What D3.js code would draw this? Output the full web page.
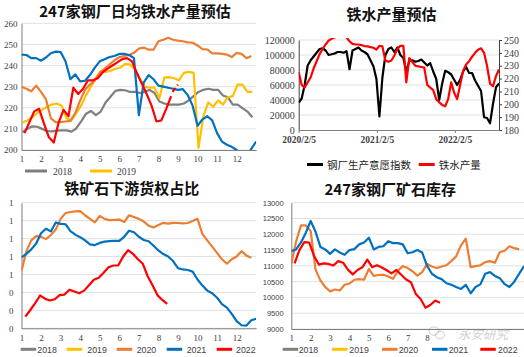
<!DOCTYPE html>
<html><head><meta charset="utf-8">
<script src="https://cdn.jsdelivr.net/npm/d3@7/dist/d3.min.js"></script>
<style>body{margin:0;background:#fff}svg{display:block}</style>
</head><body><svg id="c" width="524" height="357"></svg>
<script>
// ---------- DATA ----------
const monthLabels = [1,2,3,4,5,6,7,8,9,10,11,12];
const p4MonthLabels = [1,2,3,4,5,6,7,8];   // 9–12 hidden under the watermark in the reference
const yearNames = ["2018","2019","2020","2021","2022"];

// Panel 1: 247家钢厂日均铁水产量预估 (weekly, quarter-month steps)
const p1Ticks = [200,210,220,230,240,250,260];
const p1Start = {2018:1.05, 2019:1.05, 2020:1, 2021:1, 2022:1.15};
const p1_2018 = [208.5,210,211.2,211,210,209,208.8,209.2,209.3,209.3,208.7,210.2,213.5,217.2,218.5,216.5,218.2,222.5,225.2,228,228.5,228.3,227.5,227.5,227,227.5,228.5,227,223,222,221.5,221.5,221.5,222,223.5,225.5,227.5,228.5,229,228.5,228.5,225.8,225,221.5,221.5,219.8,218.2,215.5];
const p1_2019 = [213,214,215.5,217.5,219,220.5,221.5,222,221,215,214,217.5,221,226,230,234,237.5,237,237.5,238.5,239,240.8,240.5,238,233.5,230,229.5,229.5,224.5,234.3,234.5,234,233,236.5,237,236.5,201,216,222.5,220.5,223.5,221.5,225,225.5,231,231,227.5,227.5];
const p1_2020 = [230,229,227.8,230.5,227.5,224,215,213.2,213.2,213.5,213.8,217.5,223.5,228.5,231,233,236.5,238.5,240.5,242.5,244,244.5,245,246,248,248.5,247.5,247.5,251.5,252.2,253.2,252.2,251.8,251.5,251,250.8,249.5,247.8,247.6,245.8,245.8,245.5,245.2,244,246,245.5,243.5,244.5];
const p1_2021 = [245.2,245,243.5,243.5,242.3,243.8,245.8,246.6,246.4,242,233.5,235.8,232.5,232.8,235.5,239,242,243,244,244.5,245.5,245.5,245,243.5,216.5,232,235.5,233.5,230.5,230,229.5,229,228.5,228.8,226,221,211.5,214.5,216,214,208,204,202.5,201.5,200,198,197,200.5,204];
const p1_2022 = [208,213,218.3,219.5,212.5,206,203.5,213,219,216,229.5,226.5,229,233,233,234,236.8,238.5,240,241.5,243,243.5,242,236.5,231.5,226.5,221,213.5,214,219.5,225.5];
const p1ForecastMonths = [8.72, 9.0];
const p1ForecastVals = [227.5, 231];

// Panel 2: 铁水产量预估 (bi-weekly from 2020/2/5)
const p2Start = "2020-02-05";
const p2StepDays = 14;
const p2LeftTicks = [0,20000,40000,60000,80000,100000,120000];
const p2RightTicks = [180,190,200,210,220,230,240,250];
const p2DateTicks = ["2020-02-05","2021-02-05","2022-02-05"];
const p2DateLabels = ["2020/2/5","2021/2/5","2022/2/5"];
const p2Names = ["钢厂生产意愿指数","铁水产量"];
const p2Index = [36400,42000,60000,86000,93000,98000,103000,108000,109000,106000,100000,101000,102000,104000,104000,103000,105000,81000,106000,108000,110000,106000,104000,101000,93000,85000,68000,18000,70000,100000,108000,110000,104000,110000,100000,96000,78000,92000,93000,91000,92000,94000,90000,86000,89000,78000,68000,40000,62000,79000,77000,74000,67000,60000,67000,78000,84000,76000,76000,66000,59000,52000,17000,16000,9000,35000,57000,62000];
const p2Iron = [225,215,213,217,221,228,233.5,239,243,246.5,249.5,251,252,253,253,253,252,249,247,246.5,246.5,246,245.3,245,244.5,244,242.5,245.5,245,234,233,234,238,243,245.5,245.5,217,236,233,230,229.5,229,228.5,215,213,211,204,201.5,199.5,198.5,204,217,209,204,215,226,231,233.5,237,240,242.5,243.5,240,230,216,214,222,227];

// Panel 3: 铁矿石下游货权占比
const p3Ticks = [0.2,0.3,0.4,0.5,0.6,0.7,0.8,0.9];
const p3Start = {2020:1, 2021:1, 2022:1.2};
const p3_2020 = [0.52,0.63,0.69,0.714,0.71,0.697,0.72,0.75,0.81,0.842,0.848,0.852,0.853,0.83,0.81,0.79,0.826,0.81,0.803,0.804,0.806,0.792,0.83,0.82,0.81,0.795,0.772,0.762,0.776,0.788,0.783,0.788,0.787,0.785,0.787,0.798,0.81,0.725,0.69,0.655,0.62,0.585,0.56,0.585,0.60,0.63,0.605,0.593];
const p3_2021 = [0.595,0.615,0.64,0.673,0.73,0.755,0.74,0.79,0.782,0.78,0.742,0.722,0.708,0.69,0.668,0.664,0.676,0.683,0.686,0.688,0.687,0.71,0.744,0.735,0.71,0.692,0.685,0.66,0.634,0.614,0.6,0.575,0.535,0.528,0.525,0.516,0.472,0.438,0.41,0.395,0.37,0.335,0.315,0.28,0.24,0.217,0.215,0.245,0.253];
const p3_2022 = [0.265,0.302,0.34,0.383,0.365,0.355,0.362,0.385,0.388,0.415,0.405,0.395,0.41,0.44,0.47,0.482,0.51,0.54,0.55,0.551,0.6,0.636,0.615,0.585,0.56,0.49,0.44,0.385,0.358,0.336];

// Panel 4: 247家钢厂矿石库存
const p4Ticks = [9000,9500,10000,10500,11000,11500,12000,12500,13000];
const p4Start = {2020:1, 2021:1, 2022:1.17};
const p4_2020 = [11060,11780,12280,12280,12100,10880,10540,10330,10190,10250,10220,10400,10440,10560,10580,10560,10900,10680,10710,10720,10660,10590,10850,10990,10930,10830,10690,10800,11058,10980,10930,10980,11020,11150,11300,11650,11860,10960,10990,11020,11120,11150,11100,11430,11480,11620,11560,11520];
const p4_2021 = [11470,11520,11740,12050,12420,12080,11600,11520,11380,11520,11420,11350,11500,11530,11680,11740,11890,11520,11600,11620,11780,11720,11720,11680,11400,11430,11500,11420,11000,10750,10640,10580,10450,10400,10330,10270,10400,10130,10330,10414,10750,10800,10680,10610,10420,10330,10500,10750,10990];
const p4_2022 = [11080,11500,11750,11740,11320,11040,11080,11060,11010,11150,11100,10880,10730,10870,10960,11200,10960,11020,10950,10860,10760,10870,10720,10570,10480,10110,9950,9675,9760,9900,9834];

// ---------- DRAWING ----------
const svg = d3.select("#c");
const SERIF = '"Liberation Serif","Times New Roman",serif';
const SANS = '"Liberation Sans",Arial,sans-serif';
const CJK = '"Noto Sans CJK SC","Noto Sans",sans-serif';
const COL = {2018:"#7f7f7f",2019:"#ffc000",2020:"#ed7d31",2021:"#0070c0",2022:"#ff0000"};
const GRID = "#d9d9d9", AXIS = "#7f7f7f", TXT = "#404040";

const toPts = (vals, start) => vals.map((v,i) => [start + i*0.25, v]);

let clipId = 0;
function makeClip(x0,y0,x1,y1){
  const id = "clip"+(clipId++);
  svg.append("clipPath").attr("id",id).append("rect").attr("x",x0).attr("y",y0-2).attr("width",x1-x0).attr("height",y1-y0+2);
  return "url(#"+id+")";
}

function title(txt,x,y){
  svg.append("text").attr("x",x).attr("y",y).attr("text-anchor","middle")
    .attr("font-family",CJK).attr("font-weight","bold").attr("font-size",15).attr("fill","#111").text(txt);
}

function monthPanel(o){
  const x = d3.scaleLinear().domain([1,13]).range(o.xr);
  const y = d3.scaleLinear().domain(o.yd).range(o.yr);
  const g = svg.append("g");
  g.selectAll("line.grid").data(o.ticks).join("line")
    .attr("x1",o.xr[0]).attr("x2",o.xr[1]).attr("y1",d=>y(d)).attr("y2",d=>y(d))
    .attr("stroke",GRID).attr("stroke-width",0.8);
  const ya = g.append("g").attr("transform",`translate(${o.xr[0]},0)`)
    .call(d3.axisLeft(y).tickValues(o.ticks).tickSize(0).tickPadding(o.yPad).tickFormat(o.yFmt));
  ya.select(".domain").attr("stroke",AXIS);
  ya.selectAll("text").attr("font-family",o.yFont).attr("font-size",o.yFs).attr("fill",TXT);
  const xa = g.append("g").attr("transform",`translate(0,${o.yr[0]})`)
    .call(d3.axisBottom(x).tickValues(o.months || monthLabels).tickSize(0).tickPadding(6).tickFormat(d3.format("d")));
  xa.select(".domain").attr("stroke",AXIS);
  xa.selectAll("text").attr("font-family",SERIF).attr("font-size",9).attr("fill",TXT);
  const clip = makeClip(o.xr[0],o.yr[1],o.xr[1],o.yr[0]);
  const line = d3.line().x(d=>x(d[0])).y(d=>y(d[1]));
  const pg = g.append("g").attr("clip-path",clip);
  o.series.forEach(s=>{
    pg.append("path").datum(s.pts).attr("d",line).attr("fill","none")
      .attr("stroke",s.color).attr("stroke-width",s.w||2.2).attr("stroke-linejoin","round")
      .attr("stroke-dasharray",s.dash||null);
  });
  return {x,y};
}

// Panel 1
title("247家钢厂日均铁水产量预估",135,17);
monthPanel({
  xr:[21.5,256.2], yr:[150,23.3], yd:[200,260], ticks:p1Ticks,
  yFmt:d3.format("d"), yFont:SERIF, yFs:9, yPad:4,
  series:[
    {pts:toPts(p1_2018,p1Start[2018]),color:COL[2018]},
    {pts:toPts(p1_2019,p1Start[2019]),color:COL[2019]},
    {pts:toPts(p1_2020,p1Start[2020]),color:COL[2020]},
    {pts:toPts(p1_2021,p1Start[2021]),color:COL[2021]},
    {pts:toPts(p1_2022,p1Start[2022]),color:COL[2022]},
    {pts:p1ForecastMonths.map((m,i)=>[m,p1ForecastVals[i]]),color:COL[2022],dash:"5,3"}
  ]
});
// Panel 1 legend
[["2018",25,53],["2019",90,117]].forEach(([n,lx,tx])=>{
  svg.append("line").attr("x1",lx).attr("x2",lx+22).attr("y1",171).attr("y2",171).attr("stroke",COL[n]).attr("stroke-width",3);
  svg.append("text").attr("x",tx).attr("y",174.5).attr("font-family",SERIF).attr("font-size",9.5).attr("fill",TXT).text(n);
});

// Panel 2
title("铁水产量预估",391.5,20);
(function(){
  const parse = d3.utcParse("%Y-%m-%d");
  const t0 = parse(p2Start);
  const dayMs = 864e5;
  const n = p2Index.length;
  const x = d3.scaleUtc().domain([t0, new Date(+t0 + (n-1)*p2StepDays*dayMs)]).range([298.7,499]);
  const yL = d3.scaleLinear().domain([0,120000]).range([130,40]);
  const yR = d3.scaleLinear().domain([180,250]).range([130,40]);
  const g = svg.append("g");
  g.selectAll("line.grid").data(p2LeftTicks.slice(1)).join("line")
    .attr("x1",298.7).attr("x2",499).attr("y1",d=>yL(d)).attr("y2",d=>yL(d))
    .attr("stroke",GRID).attr("stroke-width",0.8);
  const la = g.append("g").attr("transform","translate(298.7,0)")
    .call(d3.axisLeft(yL).tickValues(p2LeftTicks).tickSize(0).tickPadding(4).tickFormat(d3.format("d")));
  la.select(".domain").attr("stroke","#404040");
  la.selectAll("text").attr("font-family",SERIF).attr("font-size",10).attr("fill",TXT);
  const ra = g.append("g").attr("transform","translate(499,0)")
    .call(d3.axisRight(yR).tickValues(p2RightTicks).tickSize(3).tickSizeOuter(0).tickPadding(2).tickFormat(d3.format("d")));
  ra.select(".domain").attr("stroke","#404040");
  ra.selectAll("line").attr("stroke","#404040");
  ra.selectAll("text").attr("font-family",SERIF).attr("font-size",10).attr("fill",TXT);
  const xa = g.append("g").attr("transform","translate(0,130)")
    .call(d3.axisBottom(x).tickValues(p2DateTicks.map(parse)).tickSize(3).tickSizeOuter(0).tickPadding(3)
      .tickFormat((d,i)=>p2DateLabels[i]));
  xa.select(".domain").attr("stroke",AXIS);
  xa.selectAll("line").attr("stroke",AXIS);
  xa.selectAll("text").attr("font-family",SERIF).attr("font-size",9.5).attr("font-weight","bold").attr("fill",TXT);
  const clip = makeClip(298.7,40,499,130);
  const pg = g.append("g").attr("clip-path",clip);
  const dateAt = i => new Date(+t0 + i*p2StepDays*dayMs);
  pg.append("path").datum(p2Index).attr("fill","none").attr("stroke","#000").attr("stroke-width",2.2)
    .attr("stroke-linejoin","round").attr("d",d3.line().x((d,i)=>x(dateAt(i))).y(d=>yL(d)));
  pg.append("path").datum(p2Iron).attr("fill","none").attr("stroke","#ff0000").attr("stroke-width",2.2)
    .attr("stroke-linejoin","round").attr("d",d3.line().x((d,i)=>x(dateAt(i))).y(d=>yR(d)));
  // legend
  [[p2Names[0],307,"#000"],[p2Names[1],418.7,"#ff0000"]].forEach(([nm,lx,c])=>{
    svg.append("line").attr("x1",lx).attr("x2",lx+16).attr("y1",164.5).attr("y2",164.5).attr("stroke",c).attr("stroke-width",3);
    svg.append("text").attr("x",lx+20).attr("y",168.5).attr("font-family",CJK).attr("font-size",10.5).attr("fill","#222").text(nm);
  });
})();

// Panel 3
title("铁矿石下游货权占比",131.7,193.5);
monthPanel({
  xr:[21.5,256.2], yr:[328.3,202.7], yd:[0.2,0.9], ticks:p3Ticks,
  yFmt:d3.format(".0f"), yFont:SERIF, yFs:9, yPad:8,
  series:[
    {pts:toPts(p3_2020,p3Start[2020]),color:COL[2020]},
    {pts:toPts(p3_2021,p3Start[2021]),color:COL[2021]},
    {pts:toPts(p3_2022,p3Start[2022]),color:COL[2022]}
  ]
});

// Panel 4
title("247家钢厂矿石库存",390.3,194.5);
monthPanel({
  xr:[291.3,524], yr:[329,202.7], yd:[9000,13000], ticks:p4Ticks, months:p4MonthLabels,
  yFmt:d3.format("d"), yFont:SANS, yFs:7.6, yPad:7.5,
  series:[
    {pts:toPts(p4_2020,p4Start[2020]),color:COL[2020]},
    {pts:toPts(p4_2021,p4Start[2021]),color:COL[2021]},
    {pts:toPts(p4_2022,p4Start[2022]),color:COL[2022]}
  ]
});

// Bottom legends (panels 3 and 4)
function yearLegend(items){
  items.forEach(([n,lx,tx])=>{
    svg.append("line").attr("x1",lx).attr("x2",lx+15.5).attr("y1",349.3).attr("y2",349.3).attr("stroke",COL[n]).attr("stroke-width",3);
    svg.append("text").attr("x",tx).attr("y",352.5).attr("font-family",SANS).attr("font-size",8.8).attr("fill",TXT).text(n);
  });
}
yearLegend(yearNames.map((n,i)=>[n,[20.7,66.7,116.7,166.7,216.7][i],[37.3,87.3,136.7,186.7,236][i]]));
yearLegend(yearNames.map((n,i)=>[n,[282.7,332,382,432,480.3][i],[298.7,349.3,398.7,448.7,498][i]]));

// Watermark (panel 4)
const wm = svg.append("g").attr("opacity",0.55);
wm.append("ellipse").attr("cx",434).attr("cy",331).attr("rx",5).attr("ry",4.2).attr("fill","none").attr("stroke","#999").attr("stroke-width",0.9);
wm.append("ellipse").attr("cx",440).attr("cy",335).attr("rx",4.5).attr("ry",3.8).attr("fill","none").attr("stroke","#999").attr("stroke-width",0.9);
wm.append("text").attr("x",458).attr("y",339).attr("font-family",CJK).attr("font-size",12.5).attr("font-style","italic").attr("fill","#aaa").text("永安研究");
</script></body></html>
